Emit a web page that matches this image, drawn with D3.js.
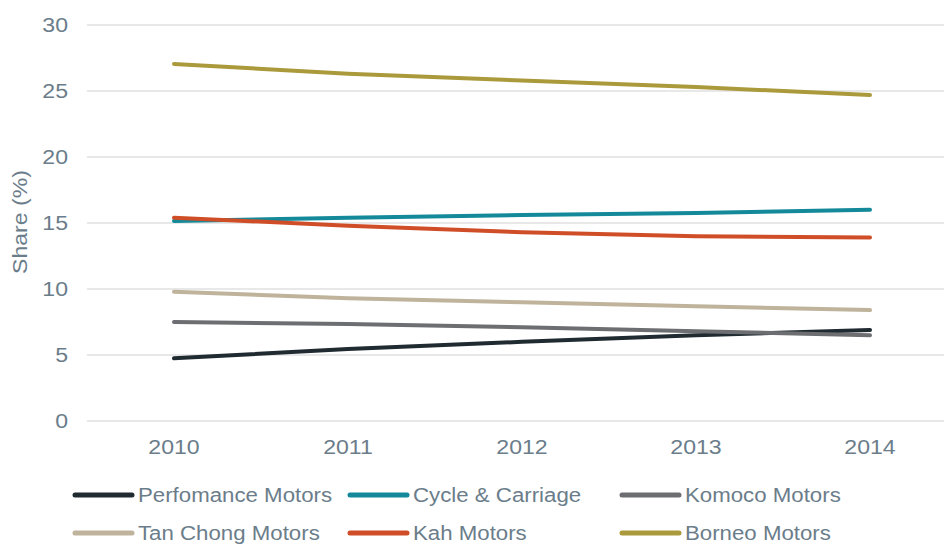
<!DOCTYPE html>
<html lang="en">
<head>
    <meta charset="UTF-8">
    <title>Share by distributor</title>
    <script src="https://d3js.org/d3.v7.min.js"></script>
    <style>
        body { margin: 0; background: #fff; }
        svg { display: block; font-family: 'Liberation Sans', Arial, sans-serif; }
        .tick-label { font-size: 21px; fill: #6b7d8a; }
        .legend-text { font-size: 21px; fill: #6b7d8a; }
        .grid line { stroke: #e1e1e1; stroke-width: 1.5; }
    </style>
</head>
<body>
    <svg id="chart" width="944" height="544"></svg>
    <script>
        const years = ["2010", "2011", "2012", "2013", "2014"];
        const yTicks = [0, 5, 10, 15, 20, 25, 30];

        const seriesNames = ["Perfomance Motors", "Cycle & Carriage", "Komoco Motors",
                             "Tan Chong Motors", "Kah Motors", "Borneo Motors"];
        const seriesColors = ["#1f2a31", "#13899a", "#6d6e71", "#bfb39b", "#d04e27", "#ab9a3b"];

        const performance = [4.75, 5.45, 6.0, 6.5, 6.9];
        const cycleCarriage = [15.15, 15.4, 15.6, 15.75, 16.0];
        const komoco = [7.5, 7.35, 7.1, 6.8, 6.5];
        const tanChong = [9.8, 9.3, 9.0, 8.7, 8.4];
        const kah = [15.4, 14.8, 14.3, 14.0, 13.9];
        const borneo = [27.05, 26.3, 25.8, 25.3, 24.7];

        const seriesValues = [performance, cycleCarriage, komoco, tanChong, kah, borneo];

        const svg = d3.select("#chart");
        const stretch = 1.1; // text in the original is a little wide
        const legendStretch = 1.06;

        const x = d3.scalePoint().domain(years).range([87, 957]).padding(0.5);
        const y = d3.scaleLinear().domain([0, 30]).range([421, 25]);

        // gridlines
        svg.append("g").attr("class", "grid")
            .selectAll("line")
            .data(yTicks)
            .join("line")
            .attr("x1", 87).attr("x2", 957)
            .attr("y1", d => y(d)).attr("y2", d => y(d));

        // y tick labels
        svg.append("g")
            .selectAll("text")
            .data(yTicks)
            .join("text")
            .attr("class", "tick-label")
            .attr("transform", d => `translate(68, ${y(d)}) scale(${stretch}, 1)`)
            .attr("dy", "0.35em")
            .attr("text-anchor", "end")
            .text(d => d);

        // x tick labels
        svg.append("g")
            .selectAll("text")
            .data(years)
            .join("text")
            .attr("class", "tick-label")
            .attr("transform", d => `translate(${x(d)}, 454) scale(${stretch}, 1)`)
            .attr("text-anchor", "middle")
            .text(d => d);

        // axis title
        svg.append("text")
            .attr("class", "tick-label")
            .attr("transform", `translate(27, 222) rotate(-90) scale(${stretch}, 1)`)
            .attr("text-anchor", "middle")
            .text("Share (%)");

        // lines
        const line = d3.line()
            .x((d, i) => x(years[i]))
            .y(d => y(d));

        svg.append("g")
            .selectAll("path")
            .data(seriesValues)
            .join("path")
            .attr("d", line)
            .attr("fill", "none")
            .attr("stroke", (d, i) => seriesColors[i])
            .attr("stroke-width", 4)
            .attr("stroke-linecap", "round")
            .attr("stroke-linejoin", "round");

        // legend
        const legendCols = [75, 350, 622];
        const legendRows = [495, 533];

        const legend = svg.append("g")
            .selectAll("g")
            .data(seriesNames)
            .join("g")
            .attr("transform", (d, i) => `translate(${legendCols[i % 3]}, ${legendRows[Math.floor(i / 3)]})`);

        legend.append("line")
            .attr("x1", 0).attr("x2", 57)
            .attr("y1", 0).attr("y2", 0)
            .attr("stroke", (d, i) => seriesColors[i])
            .attr("stroke-width", 5)
            .attr("stroke-linecap", "round");

        legend.append("text")
            .attr("class", "legend-text")
            .attr("transform", `translate(63, 0) scale(${legendStretch}, 1)`)
            .attr("dy", "0.35em")
            .text(d => d);
    </script>
</body>
</html>
